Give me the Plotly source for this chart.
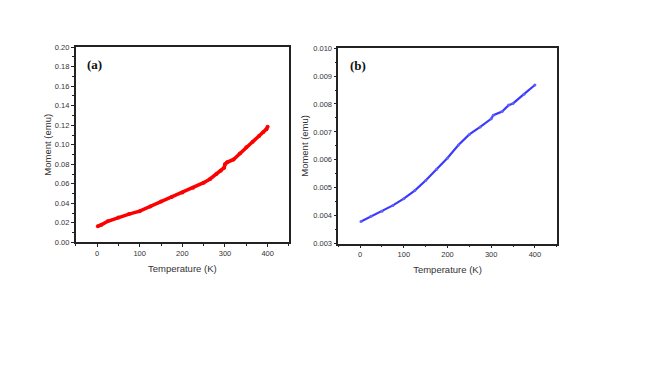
import plotly.graph_objects as go

# Panel (a) data
temp_a = [2, 10, 25, 50, 75, 100, 125, 150, 175, 200, 225, 250, 265, 280, 290, 298, 300, 305, 320, 335, 350, 365, 380, 390, 397, 400]
moment_a = [0.0166, 0.0180, 0.0216, 0.0256, 0.0290, 0.0320, 0.0368, 0.0420, 0.0465, 0.0512, 0.0560, 0.0612, 0.0650, 0.0700, 0.0735, 0.0765, 0.0800, 0.0820, 0.0850, 0.0910, 0.0975, 0.1030, 0.1090, 0.1130, 0.1160, 0.1185]

# Panel (b) data
temp_b = [2, 25, 50, 75, 100, 125, 150, 175, 200, 225, 250, 275, 300, 305, 325, 340, 350, 375, 400]
moment_b = [0.00379, 0.00398, 0.00416, 0.00437, 0.00461, 0.00490, 0.00526, 0.00566, 0.00607, 0.00653, 0.00691, 0.00718, 0.00747, 0.00760, 0.00773, 0.00796, 0.00802, 0.00835, 0.00868]

x_ticks = [0, 100, 200, 300, 400]
y_ticks_a = [round(0.02 * i, 2) for i in range(11)]
y_ticks_b = [0.003, 0.004, 0.005, 0.006, 0.007, 0.008, 0.009, 0.010]

fig = go.Figure()
fig.add_trace(go.Scatter(x=temp_a, y=moment_a, mode="lines+markers",
                         line=dict(color="#ff0000", width=3.5),
                         marker=dict(color="#ff0000", size=4),
                         xaxis="x", yaxis="y", showlegend=False))
fig.add_trace(go.Scatter(x=temp_b, y=moment_b, mode="lines+markers",
                         line=dict(color="#3a3aff", width=2.2),
                         marker=dict(color="#6060ff", size=3),
                         xaxis="x2", yaxis="y2", showlegend=False))

font_family = "Liberation Sans, Arial, sans-serif"
axis_common = dict(
    showline=True, linecolor="#222222", linewidth=1.5, mirror=True,
    showgrid=False, zeroline=False, ticks="outside", ticklen=3, tickwidth=1,
    tickcolor="#222222", tickfont=dict(family=font_family, size=7.5, color="#333333"),
)

fig.update_layout(
    width=669, height=379,
    margin=dict(l=0, r=0, t=0, b=0),
    paper_bgcolor="white", plot_bgcolor="white",
    xaxis=dict(domain=[0.1012, 0.42], range=[-50, 450], tickvals=x_ticks,
               minor=dict(dtick=50, ticks="outside", ticklen=2, tickcolor="#222222"),
               title=dict(text="Temperature (K)", font=dict(family=font_family, size=9.5, color="#333333"), standoff=8),
               anchor="y", **axis_common),
    yaxis=dict(domain=[0.3773, 0.905], range=[0, 0.20], tickvals=y_ticks_a, tickformat=".2f",
               minor=dict(dtick=0.01, ticks="outside", ticklen=2, tickcolor="#222222"),
               title=dict(text="Moment (emu)", font=dict(family=font_family, size=9.5, color="#333333"), standoff=2),
               anchor="x", **axis_common),
    xaxis2=dict(domain=[0.4937, 0.8202], range=[-50, 450], tickvals=x_ticks,
                minor=dict(dtick=50, ticks="outside", ticklen=2, tickcolor="#222222"),
                title=dict(text="Temperature (K)", font=dict(family=font_family, size=9.5, color="#333333"), standoff=8),
                anchor="y2", **axis_common),
    yaxis2=dict(domain=[0.3739, 0.9024], range=[0.003, 0.010], tickvals=y_ticks_b, tickformat=".3f",
                minor=dict(dtick=0.0005, ticks="outside", ticklen=2, tickcolor="#222222"),
                title=dict(text="Moment (emu)", font=dict(family=font_family, size=9.5, color="#333333"), standoff=3),
                anchor="x2", **axis_common),
    annotations=[
        dict(text="<b>(a)</b>", xref="x domain", yref="y domain", x=0.045, y=0.91,
             xanchor="left", yanchor="middle", showarrow=False,
             font=dict(family="Liberation Serif, Times New Roman, serif", size=13, color="#111111")),
        dict(text="<b>(b)</b>", xref="x2 domain", yref="y2 domain", x=0.045, y=0.91,
             xanchor="left", yanchor="middle", showarrow=False,
             font=dict(family="Liberation Serif, Times New Roman, serif", size=13, color="#111111")),
    ],
)

fig.write_html("out.html")
